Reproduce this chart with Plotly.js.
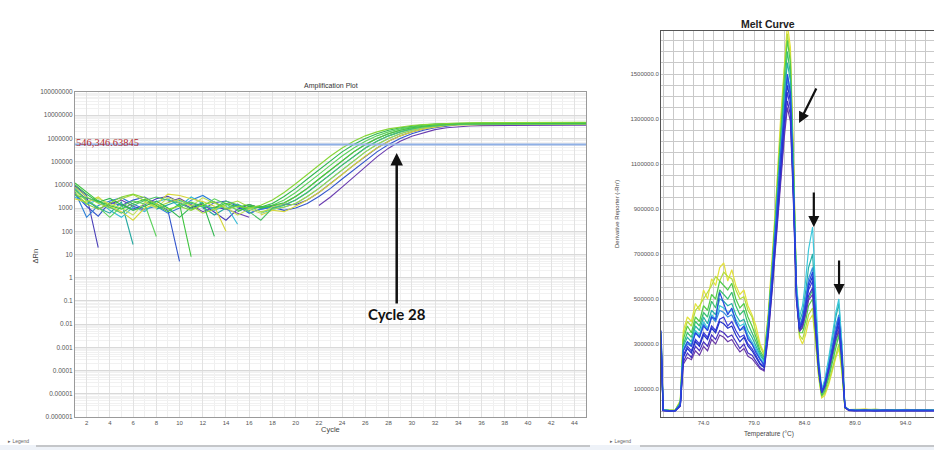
<!DOCTYPE html>
<html>
<head>
<meta charset="utf-8">
<script src="https://cdn.plot.ly/plotly-3.0.1.min.js"></script>
<style>
  html, body { margin: 0; padding: 0; background: #ffffff; }
  #chart { width: 934px; height: 450px; }
</style>
</head>
<body>
<div id="chart"></div>
<script>
// ---------- Amplification plot data (ΔRn per cycle, null = not plotted) ----------
const cycles = [1,2,3,4,5,6,7,8,9,10,11,12,13,14,15,16,17,18,19,20,21,22,23,24,25,26,27,28,29,30,31,32,33,34,35,36,37,38,39,40,41,42,43,44,45];

const ampWell01 = [6000,2500,900,1500,2200,1200,800,null,1800,2600, 1400,700,1100,900,600,400,null,null,null,null, null,1300,3000,8000,22000,60000,160000,380000,750000,1.25e6, 1.8e6,2.4e6,2.9e6,3.25e6,3.45e6,3.55e6,3.6e6,3.6e6,3.65e6,3.65e6, 3.7e6,3.7e6,3.7e6,3.75e6,3.75e6];
const ampWell02 = [4000,1200,450,1800,1300,2200,3000,1600,800,5, null,900,1700,2000,1200,600,900,1100,800,1000, 1580,3160,7080,17800,44700,112000,263000,550000,1.0e6,1.58e6, 2.24e6,2.88e6,3.47e6,3.89e6,4.0e6,4.05e6,4.1e6,4.1e6,4.15e6,4.15e6, 4.2e6,4.2e6,4.2e6,4.25e6,4.25e6];
const ampWell03 = [9000,3500,20,null,1500,900,1400,2500,3200,1800, 1000,1500,700,300,900,1400,1000,1200,1500,1400, 2240,4680,11200,28200,70800,174000,389000,759000,1.29e6,1.91e6, 2.57e6,3.16e6,3.72e6,4.07e6,4.2e6,4.25e6,4.3e6,4.3e6,4.35e6,4.35e6, 4.4e6,4.4e6,4.4e6,4.45e6,4.45e6];
const ampWell04 = [3000,1500,2200,800,400,1100,700,1900,2500,1200, 3000,1500,800,1300,200,null,600,900,1100,1580, 3160,7080,17800,44700,112000,263000,550000,1.0e6,1.58e6,2.24e6, 2.88e6,3.47e6,3.89e6,4.1e6,4.15e6,4.2e6,4.2e6,4.25e6,4.25e6,4.3e6, 4.3e6,4.3e6,4.35e6,4.35e6,4.35e6];
const ampWell05 = [7000,2000,1000,600,1800,27,null,900,1400,2100, 1600,1100,500,1000,1500,800,1200,1000,1320,2240, 4680,11200,28200,70800,174000,389000,759000,1.29e6,1.91e6,2.57e6, 3.16e6,3.72e6,4.07e6,4.3e6,4.4e6,4.45e6,4.5e6,4.5e6,4.55e6,4.55e6, 4.6e6,4.6e6,4.6e6,4.65e6,4.65e6];
const ampWell06 = [5000,400,1300,2000,2800,1500,900,1200,600,1000, 2200,3500,1800,900,1300,600,900,1120,1580,3160, 7080,17800,44700,112000,263000,550000,1.0e6,1.58e6,2.24e6,2.88e6, 3.47e6,3.89e6,4.1e6,4.2e6,4.25e6,4.3e6,4.3e6,4.35e6,4.35e6,4.4e6, 4.4e6,4.4e6,4.45e6,4.45e6,4.45e6];
const ampWell07 = [2500,1800,3000,1200,700,300,1000,1500,4000,3500, 2500,1900,1200,100,null,null,500,800,700,1200, 2240,4680,11200,28200,70800,174000,389000,759000,1.29e6,1.91e6, 2.57e6,3.16e6,3.6e6,3.85e6,3.95e6,4.0e6,4.0e6,4.05e6,4.05e6,4.1e6, 4.1e6,4.1e6,4.15e6,4.15e6,4.15e6];
const ampWell08 = [8000,3000,1600,1000,2500,3800,2000,1100,1700,2400, 1300,600,900,1400,2000,1100,700,900,1120,1580, 3160,7080,17800,44700,112000,263000,550000,1.0e6,1.58e6,2.24e6, 2.88e6,3.47e6,3.89e6,4.15e6,4.3e6,4.35e6,4.4e6,4.4e6,4.45e6,4.45e6, 4.5e6,4.5e6,4.5e6,4.55e6,4.55e6];
const ampWell09 = [12000,5000,2000,1300,900,1600,2400,1300,700,1500, 8,null,1000,1600,1100,1400,1000,1300,1700,3160, 7080,17800,44700,112000,263000,550000,1.0e6,1.58e6,2.24e6,2.88e6, 3.47e6,3.89e6,4.2e6,4.4e6,4.5e6,4.55e6,4.6e6,4.6e6,4.65e6,4.65e6, 4.7e6,4.7e6,4.7e6,4.75e6,4.75e6];
const ampWell10 = [6000,2200,1100,400,1200,2000,1500,60,null,1300, 1800,1200,2500,1500,800,1000,1100,1320,2240,4680, 11200,28200,70800,174000,389000,759000,1.29e6,1.91e6,2.57e6,3.16e6, 3.72e6,4.07e6,4.2e6,4.3e6,4.35e6,4.4e6,4.4e6,4.45e6,4.45e6,4.5e6, 4.5e6,4.5e6,4.55e6,4.55e6,4.55e6];
const ampWell11 = [10000,4000,1800,2600,1400,800,1200,2000,1000,400, 1100,1700,60,null,700,1200,1120,1580,3160,7080, 17800,44700,112000,263000,550000,1.0e6,1.58e6,2.24e6,2.88e6,3.47e6, 3.89e6,4.2e6,4.35e6,4.45e6,4.5e6,4.55e6,4.55e6,4.6e6,4.6e6,4.65e6, 4.65e6,4.65e6,4.7e6,4.7e6,4.7e6];
const ampWell12 = [4500,1500,900,1700,3000,4000,2800,1500,900,1200, 800,1400,1900,900,1200,1000,1320,2240,4680,11200, 28200,70800,174000,389000,759000,1.29e6,1.91e6,2.57e6,3.16e6,3.6e6, 3.95e6,4.25e6,4.45e6,4.6e6,4.7e6,4.75e6,4.8e6,4.8e6,4.85e6,4.85e6, 4.9e6,4.9e6,4.9e6,4.95e6,4.95e6];
const ampWell13 = [3500,2800,1900,1100,600,1300,2100,3000,2200,1600, 900,1300,1000,2000,1400,700,300,1000,1320,2240, 4680,11200,28200,70800,174000,389000,759000,1.29e6,1.91e6,2.57e6, 3.16e6,3.6e6,3.85e6,4.0e6,4.05e6,4.1e6,4.1e6,4.15e6,4.15e6,4.2e6, 4.2e6,4.2e6,4.25e6,4.25e6,4.25e6];
const ampWell14 = [5500,2000,2600,1500,1000,500,1800,1000,2800,1900, 1200,2800,1600,1100,500,900,600,1120,1580,3160, 7080,17800,44700,112000,263000,550000,1.0e6,1.58e6,2.24e6,2.88e6, 3.47e6,3.89e6,4.15e6,4.3e6,4.4e6,4.45e6,4.5e6,4.5e6,4.55e6,4.55e6, 4.6e6,4.6e6,4.6e6,4.65e6,4.65e6];

const threshold = 546346.63845;
const ampYTickVals = [1e-6,1e-5,1e-4,1e-3,0.01,0.1,1,10,100,1000,1e4,1e5,1e6,1e7,1e8];
const ampYTickText = ['0.000001','0.00001','0.0001','0.001','0.01','0.1','1','10','100','1000','10000','100000','1000000','10000000','100000000'];
const ampXTickVals = [2,4,6,8,10,12,14,16,18,20,22,24,26,28,30,32,34,36,38,40,42,44];

// ---------- Melt curve data (derivative reporter per temperature) ----------
const meltTemps = [69.8,69.9,70.0,70.6,71.2,71.7,72.0,72.4,72.8,73.2, 73.6,74.0,74.4,74.8,75.2,75.6,76.0,76.4,76.8,77.2, 77.6,78.0,78.4,78.8,79.2,79.6,80.0,80.4,80.8,81.2, 81.6,82.0,82.3,82.6,82.9,83.2,83.5,83.8,84.1,84.4, 84.8,85.1,85.4,85.7,86.0,86.4,86.8,87.1,87.4,87.7, 88.0,88.4,89.0,90.0,91.0,92.0,93.0,94.0,95.0,96.0,97.0];

const meltWell01 = [300e3,140e3,10e3,6e3,7e3,50e3,360e3,420e3,400e3,480e3, 450e3,540e3,500e3,590e3,560e3,640e3,660e3,580e3,630e3,560e3, 520e3,540e3,470e3,430e3,380e3,300e3,260e3,430e3,680e3,960e3, 1280e3,1560e3,1720e3,1620e3,1150e3,560e3,330e3,300e3,340e3,400e3, 430e3,300e3,150e3,60e3,70e3,120e3,190e3,240e3,280e3,170e3, 15e3,10e3,8e3,12e3,6e3,9e3,5e3,10e3,7e3,6e3,8e3];
const meltWell02 = [320e3,150e3,9e3,5e3,6e3,45e3,340e3,400e3,380e3,450e3, 470e3,500e3,530e3,560e3,600e3,580e3,620e3,600e3,590e3,540e3, 500e3,510e3,450e3,420e3,350e3,290e3,250e3,420e3,660e3,940e3, 1250e3,1520e3,1680e3,1580e3,1120e3,550e3,340e3,320e3,370e3,430e3, 460e3,320e3,160e3,65e3,80e3,130e3,200e3,260e3,300e3,180e3, 14e3,9e3,10e3,7e3,11e3,6e3,9e3,5e3,8e3,7e3,6e3];
const meltWell03 = [350e3,160e3,8e3,5e3,6e3,40e3,320e3,380e3,350e3,420e3, 400e3,470e3,450e3,520e3,500e3,580e3,560e3,540e3,570e3,500e3, 460e3,480e3,420e3,380e3,330e3,270e3,240e3,410e3,640e3,920e3, 1220e3,1480e3,1650e3,1550e3,1100e3,540e3,350e3,350e3,400e3,470e3, 500e3,350e3,170e3,70e3,90e3,150e3,230e3,290e3,340e3,200e3, 16e3,8e3,7e3,9e3,5e3,8e3,6e3,9e3,5e3,8e3,6e3];
const meltWell04 = [310e3,145e3,7e3,4e3,5e3,38e3,300e3,350e3,330e3,400e3, 380e3,440e3,420e3,490e3,460e3,540e3,520e3,500e3,530e3,470e3, 430e3,450e3,390e3,350e3,310e3,260e3,230e3,400e3,630e3,900e3, 1190e3,1440e3,1600e3,1500e3,1080e3,540e3,360e3,370e3,430e3,500e3, 540e3,370e3,180e3,75e3,100e3,160e3,250e3,310e3,360e3,210e3, 18e3,7e3,6e3,8e3,5e3,7e3,6e3,8e3,5e3,7e3,5e3];
const meltWell05 = [330e3,155e3,7e3,4e3,5e3,35e3,290e3,330e3,310e3,380e3, 360e3,420e3,390e3,450e3,430e3,500e3,490e3,470e3,480e3,430e3, 400e3,410e3,360e3,330e3,290e3,250e3,225e3,390e3,620e3,880e3, 1160e3,1400e3,1550e3,1470e3,1060e3,560e3,400e3,440e3,530e3,640e3, 700e3,470e3,220e3,95e3,130e3,220e3,330e3,420e3,480e3,290e3, 22e3,8e3,6e3,5e3,7e3,5e3,6e3,4e3,7e3,5e3,6e3];
const meltWell06 = [290e3,135e3,6e3,4e3,4e3,32e3,280e3,310e3,300e3,360e3, 340e3,400e3,370e3,430e3,410e3,470e3,460e3,440e3,450e3,410e3, 380e3,390e3,340e3,310e3,280e3,240e3,215e3,380e3,600e3,860e3, 1130e3,1360e3,1500e3,1420e3,1030e3,570e3,420e3,470e3,580e3,720e3, 820e3,540e3,240e3,100e3,140e3,240e3,350e3,440e3,500e3,300e3, 22e3,7e3,5e3,6e3,4e3,6e3,5e3,7e3,4e3,6e3,5e3];
const meltWell07 = [340e3,160e3,6e3,4e3,5e3,30e3,270e3,300e3,290e3,350e3, 330e3,390e3,360e3,420e3,400e3,450e3,440e3,420e3,430e3,390e3, 360e3,370e3,330e3,300e3,270e3,230e3,210e3,370e3,590e3,840e3, 1110e3,1330e3,1480e3,1400e3,1010e3,530e3,380e3,420e3,500e3,590e3, 640e3,440e3,210e3,90e3,125e3,205e3,300e3,380e3,430e3,260e3, 20e3,6e3,5e3,7e3,4e3,6e3,5e3,6e3,4e3,5e3,6e3];
const meltWell08 = [360e3,170e3,6e3,3e3,4e3,30e3,270e3,310e3,290e3,350e3, 330e3,380e3,360e3,420e3,410e3,530e3,480e3,430e3,460e3,400e3, 360e3,380e3,320e3,300e3,260e3,230e3,205e3,375e3,600e3,850e3, 1120e3,1350e3,1500e3,1420e3,1020e3,530e3,375e3,410e3,480e3,570e3, 620e3,430e3,205e3,88e3,120e3,200e3,290e3,365e3,420e3,255e3, 20e3,7e3,5e3,4e3,6e3,4e3,5e3,6e3,4e3,5e3,4e3];
const meltWell09 = [320e3,150e3,5e3,3e3,4e3,28e3,250e3,290e3,270e3,320e3, 300e3,350e3,330e3,380e3,360e3,410e3,420e3,380e3,400e3,360e3, 330e3,340e3,300e3,280e3,250e3,215e3,200e3,360e3,570e3,810e3, 1070e3,1280e3,1420e3,1350e3,980e3,510e3,365e3,395e3,460e3,540e3, 580e3,400e3,195e3,85e3,115e3,190e3,280e3,350e3,400e3,245e3, 19e3,6e3,4e3,5e3,4e3,5e3,4e3,5e3,3e3,5e3,4e3];
const meltWell10 = [300e3,140e3,5e3,3e3,4e3,27e3,240e3,280e3,260e3,310e3, 290e3,340e3,320e3,370e3,350e3,400e3,390e3,370e3,380e3,340e3, 310e3,330e3,290e3,270e3,240e3,210e3,195e3,355e3,570e3,820e3, 1090e3,1310e3,1450e3,1380e3,990e3,515e3,368e3,400e3,470e3,555e3, 600e3,410e3,200e3,87e3,118e3,195e3,285e3,355e3,410e3,250e3, 19e3,5e3,4e3,6e3,3e3,5e3,4e3,5e3,3e3,4e3,5e3];
const meltWell11 = [310e3,145e3,4e3,3e3,3e3,25e3,220e3,260e3,240e3,290e3, 270e3,310e3,290e3,340e3,320e3,360e3,350e3,330e3,340e3,310e3, 280e3,300e3,260e3,250e3,220e3,195e3,185e3,340e3,550e3,790e3, 1040e3,1250e3,1380e3,1320e3,950e3,500e3,360e3,385e3,445e3,515e3, 550e3,385e3,190e3,85e3,112e3,185e3,272e3,335e3,380e3,235e3, 18e3,5e3,4e3,4e3,5e3,3e3,4e3,4e3,3e3,4e3,4e3];
const meltWell12 = [280e3,130e3,4e3,2e3,3e3,24e3,210e3,240e3,230e3,270e3, 250e3,290e3,270e3,320e3,300e3,340e3,330e3,310e3,320e3,290e3, 265e3,280e3,245e3,235e3,210e3,190e3,180e3,330e3,540e3,770e3, 1010e3,1220e3,1350e3,1290e3,930e3,490e3,355e3,375e3,430e3,495e3, 520e3,370e3,185e3,84e3,108e3,180e3,262e3,322e3,360e3,225e3, 17e3,4e3,3e3,4e3,3e3,4e3,3e3,4e3,3e3,4e3,3e3];

// ---------- Line colours, drawn back to front ----------
const ampSeries = [
  {v: ampWell01, c: '#6a3cb0'}, {v: ampWell02, c: '#3355cc'}, {v: ampWell03, c: '#4a3fb8'},
  {v: ampWell06, c: '#2d7fd6'}, {v: ampWell04, c: '#33bbd6'}, {v: ampWell05, c: '#25a8a0'},
  {v: ampWell07, c: '#d6d63a'}, {v: ampWell14, c: '#c4e060'}, {v: ampWell08, c: '#a8d840'},
  {v: ampWell13, c: '#4cc068'}, {v: ampWell10, c: '#5cd25c'}, {v: ampWell09, c: '#3fc43f'},
  {v: ampWell11, c: '#2fb74f'}, {v: ampWell12, c: '#86d636'}
];
const meltSeries = [
  {v: meltWell01, c: '#e4e23c'}, {v: meltWell02, c: '#b4dc3c'}, {v: meltWell03, c: '#52cc48'},
  {v: meltWell04, c: '#38c070'}, {v: meltWell05, c: '#26b0a8'}, {v: meltWell06, c: '#3cc8dc'},
  {v: meltWell07, c: '#3890e0'}, {v: meltWell12, c: '#6a3aa8'}, {v: meltWell11, c: '#4830c0'},
  {v: meltWell09, c: '#3a3ad8'}, {v: meltWell10, c: '#2030c8'}, {v: meltWell08, c: '#2848e0'}
];

const W = 934, H = 450;
const px = x => x / W;
const py = y => 1 - y / H;

const traces = [];
ampSeries.forEach(s => traces.push({
  type: 'scatter', mode: 'lines', x: cycles, y: s.v, xaxis: 'x', yaxis: 'y',
  line: {color: s.c, width: 1.1}, connectgaps: false, hoverinfo: 'skip'
}));
// threshold line across the whole run
traces.push({
  type: 'scatter', mode: 'lines', x: [cycles[0], cycles[cycles.length - 1]], y: [threshold, threshold],
  xaxis: 'x', yaxis: 'y', line: {color: '#8fb0e6', width: 2}, hoverinfo: 'skip'
});
meltSeries.forEach(s => traces.push({
  type: 'scatter', mode: 'lines', x: meltTemps, y: s.v, xaxis: 'x2', yaxis: 'y2',
  line: {color: s.c, width: 1.2}, hoverinfo: 'skip'
}));

const tickFont = {family: 'Liberation Sans, Arial, sans-serif', size: 6, color: '#555'};

const layout = {
  width: W, height: H,
  margin: {l: 0, r: 0, t: 0, b: 0, pad: 0},
  paper_bgcolor: '#ffffff', plot_bgcolor: '#ffffff',
  showlegend: false,
  xaxis: {
    domain: [px(75), px(586)], range: [1, 45], anchor: 'y',
    tickmode: 'array', tickvals: ampXTickVals, ticks: '', tickfont: tickFont,
    showgrid: true, gridcolor: '#e2e2e2', gridwidth: 1,
    minor: {dtick: 1, tick0: 1, showgrid: true, gridcolor: '#efefef'},
    showline: true, linecolor: '#9a9a9a', linewidth: 1, mirror: true, zeroline: false
  },
  yaxis: {
    domain: [py(417), py(92)], type: 'log', range: [-6, 8], anchor: 'x',
    tickmode: 'array', tickvals: ampYTickVals, ticktext: ampYTickText, ticks: '',
    tickfont: Object.assign({}, tickFont, {size: 6.5}),
    showgrid: true, gridcolor: '#d9d9d9', gridwidth: 1,
    minor: {dtick: 'D1', showgrid: true, gridcolor: '#f1f1f1'},
    showline: true, linecolor: '#9a9a9a', linewidth: 1, mirror: true, zeroline: false
  },
  xaxis2: {
    domain: [px(661), 1], range: [69.79, 96.82], anchor: 'y2',
    tick0: 74, dtick: 5, tickformat: '.1f', ticks: '', tickfont: tickFont,
    showgrid: true, gridcolor: '#c9c9c9', gridwidth: 1,
    minor: {dtick: 1, tick0: 74, showgrid: true, gridcolor: '#c9c9c9'},
    showline: true, linecolor: '#555', linewidth: 1, mirror: true, zeroline: false
  },
  yaxis2: {
    domain: [py(417), py(31)], range: [-24444, 1691111], anchor: 'x2',
    tick0: 100000, dtick: 200000, tickformat: '.1f', ticks: '', tickfont: tickFont,
    showgrid: true, gridcolor: '#c9c9c9', gridwidth: 1,
    minor: {dtick: 50000, tick0: 100000, showgrid: true, gridcolor: '#c9c9c9'},
    showline: true, linecolor: '#555', linewidth: 1, mirror: true, zeroline: false
  },
  shapes: [
    {type: 'rect', xref: 'paper', yref: 'paper', x0: 0, x1: 1, y0: 0, y1: py(445),
     fillcolor: '#eef2f8', line: {width: 0}, layer: 'below'},
    {type: 'line', xref: 'paper', yref: 'paper', x0: px(36), x1: px(590), y0: py(446), y1: py(446),
     line: {color: '#9a9a9a', width: 1}},
    {type: 'line', xref: 'paper', yref: 'paper', x0: px(640), x1: 1, y0: py(446), y1: py(446),
     line: {color: '#9a9a9a', width: 1}}
  ],
  annotations: [
    {xref: 'paper', yref: 'paper', x: px(302), y: py(86), yanchor: 'middle', yshift: 0,
     text: 'Amplification Plot', showarrow: false,
     font: {family: 'Liberation Sans, Arial, sans-serif', size: 7, color: '#333'}},
    {xref: 'paper', yref: 'paper', x: px(330), y: py(436), text: 'Cycle', showarrow: false,
     font: {family: 'Liberation Sans, Arial, sans-serif', size: 7.5, color: '#444'}},
    {xref: 'paper', yref: 'paper', x: px(28), y: py(256), text: 'ΔRn', textangle: -90, showarrow: false,
     font: {family: 'Liberation Sans, Arial, sans-serif', size: 7.5, color: '#444'}},
    {xref: 'x domain', yref: 'y', x: 0, y: Math.log10(threshold), xanchor: 'left', yanchor: 'bottom',
     yshift: -5, xshift: -1,
     text: threshold.toLocaleString('en-US', {maximumFractionDigits: 5}), showarrow: false,
     font: {family: 'Liberation Serif, Times New Roman, serif', size: 10.5, color: '#b3262a'}},
    {xref: 'x', yref: 'y', x: 28.7, y: 5.37, ax: 0, ay: 161, axref: 'pixel', ayref: 'pixel',
     text: '<b>Cycle 28</b>', showarrow: true, arrowhead: 2, arrowsize: 1, arrowwidth: 2.5,
     arrowcolor: '#111', standoff: 0,
     font: {family: 'Lato, Open Sans, sans-serif', size: 15, color: '#111'}},
    {xref: 'paper', yref: 'paper', x: px(797), y: py(16), text: '<b>Melt Curve</b>', showarrow: false,
     font: {family: 'Liberation Sans, Arial, sans-serif', size: 10.5, color: '#222'}},
    {xref: 'paper', yref: 'paper', x: px(617), y: py(214), text: "Derivative Reporter (-Rn')", textangle: -90,
     showarrow: false, font: {family: 'Liberation Sans, Arial, sans-serif', size: 6, color: '#444'}},
    {xref: 'paper', yref: 'paper', x: px(796), y: py(440), text: 'Temperature (°C)', showarrow: false,
     font: {family: 'Liberation Sans, Arial, sans-serif', size: 6.5, color: '#444'}},
    {xref: 'x2', yref: 'y2', x: 83.46, y: 1282000, ax: 18, ay: -36, axref: 'pixel', ayref: 'pixel',
     text: '', showarrow: true, arrowhead: 2, arrowsize: 1, arrowwidth: 2.2, arrowcolor: '#111', standoff: 0},
    {xref: 'x2', yref: 'y2', x: 84.92, y: 820000, ax: 0, ay: -36, axref: 'pixel', ayref: 'pixel',
     text: '', showarrow: true, arrowhead: 2, arrowsize: 1, arrowwidth: 2.2, arrowcolor: '#111', standoff: 0},
    {xref: 'x2', yref: 'y2', x: 87.42, y: 518000, ax: 0, ay: -36, axref: 'pixel', ayref: 'pixel',
     text: '', showarrow: true, arrowhead: 2, arrowsize: 1, arrowwidth: 2.2, arrowcolor: '#111', standoff: 0},
    {xref: 'paper', yref: 'paper', x: px(6), y: py(446), xanchor: 'left', text: '▸ Legend', showarrow: false,
     font: {family: 'Liberation Sans, Arial, sans-serif', size: 5, color: '#666'}},
    {xref: 'paper', yref: 'paper', x: px(608), y: py(446), xanchor: 'left', text: '▸ Legend', showarrow: false,
     font: {family: 'Liberation Sans, Arial, sans-serif', size: 5, color: '#666'}}
  ]
};

Plotly.newPlot('chart', traces, layout, {staticPlot: true, displayModeBar: false});
</script>
</body>
</html>
